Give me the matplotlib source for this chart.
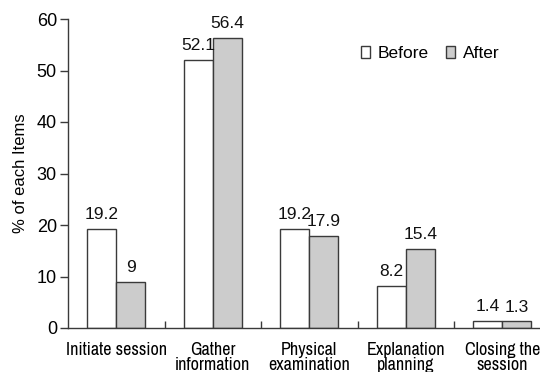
import numpy as np
import matplotlib.pyplot as plt
from matplotlib.ticker import FixedLocator

categories = ["Initiate session", "Gather\ninformation", "Physical\nexamination",
              "Explanation\nplanning", "Closing the\nsession"]
before = [19.2, 52.1, 19.2, 8.2, 1.4]
after = [9, 56.4, 17.9, 15.4, 1.3]
yticks = [0, 10, 20, 30, 40, 50, 60]

num_font = "Liberation Sans"
cat_font = ["Archivo Narrow", "Liberation Sans"]
line_col = "#3a3a3a"

fig = plt.figure(figsize=(5.4, 3.72), dpi=100)
ax = fig.add_axes([68 / 540, 1 - 328 / 372, 482.5 / 540, (328 - 19) / 372])

x = np.arange(len(categories))
w = 0.3
b1 = ax.bar(x - w / 2, before, w, color="white", edgecolor=line_col, linewidth=1, label="Before")
b2 = ax.bar(x + w / 2, after, w, color="#cccccc", edgecolor=line_col, linewidth=1, label="After")

for bars, vals in ((b1, before), (b2, after)):
    for r, v in zip(bars, vals):
        ax.text(r.get_x() + r.get_width() / 2, v + 1.3, f"{v:g}", ha="center", va="bottom",
                fontsize=12.5, family=num_font, color="#111111")

ax.set_xlim(-0.5, len(categories) - 0.5)
ax.set_ylim(0, 60)
ax.set_yticks(yticks)
ax.set_yticklabels([str(t) for t in yticks], fontsize=13, family=num_font)
ax.tick_params(axis="y", direction="out", length=6, width=1, color=line_col, pad=2)

# category names under groups, dividers as small inward ticks
ax.xaxis.set_major_locator(FixedLocator(x))
ax.set_xticklabels(categories, fontsize=13, family=cat_font, linespacing=0.92)
ax.tick_params(axis="x", which="major", length=0, pad=10)
ax.xaxis.set_minor_locator(FixedLocator(x[:-1] + 0.5))
ax.tick_params(axis="x", which="minor", direction="in", length=5, width=1, color=line_col)

for s in ("top", "right"):
    ax.spines[s].set_visible(False)
for s in ("left", "bottom"):
    ax.spines[s].set_color(line_col)
    ax.spines[s].set_linewidth(1)

ax.set_ylabel("% of each Items", fontsize=12, family=num_font, labelpad=6)

ax.legend(loc="upper left", bbox_to_anchor=(361 / 540, 1 - 46 / 372), bbox_transform=fig.transFigure,
          ncol=2, frameon=False, handlelength=0.52, handleheight=0.7, handletextpad=0.45,
          columnspacing=1.0, borderaxespad=0, borderpad=0,
          prop={"family": num_font, "size": 12.5})

fig.savefig("out.png", dpi=100)
